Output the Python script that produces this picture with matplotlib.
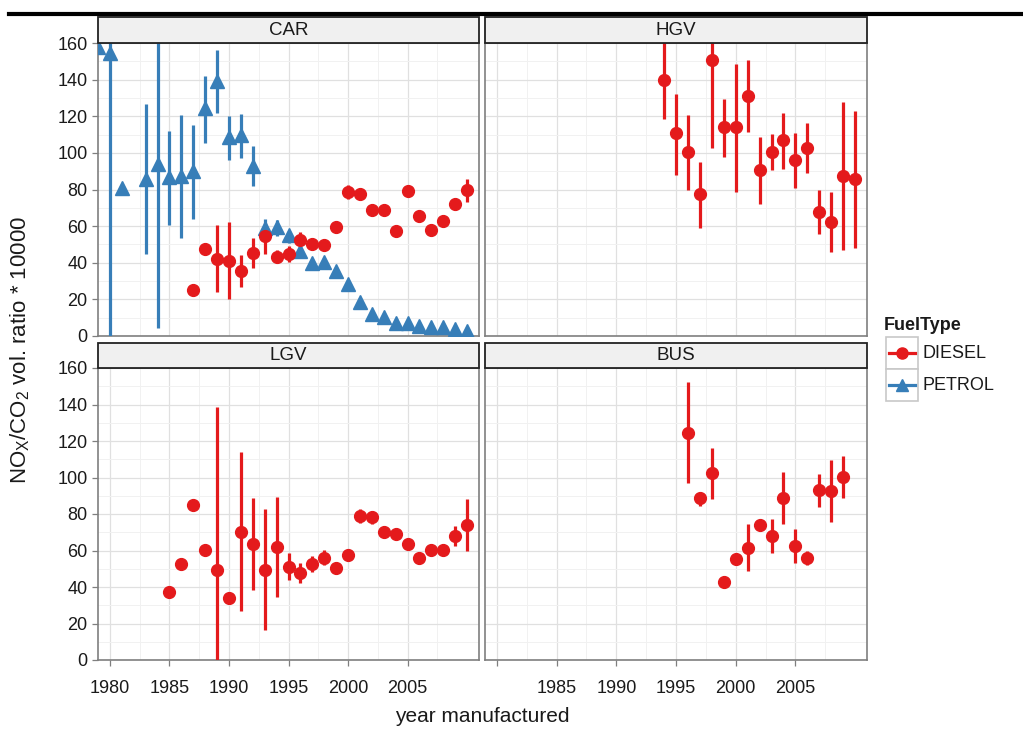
import numpy as np
import matplotlib
matplotlib.use("Agg")
import matplotlib.pyplot as plt
from matplotlib.lines import Line2D
from matplotlib.patches import Rectangle

plt.rcParams['font.family'] = ['Liberation Sans', 'DejaVu Sans']
plt.rcParams['mathtext.fontset'] = 'custom'
plt.rcParams['mathtext.rm'] = 'Liberation Sans'
plt.rcParams['mathtext.it'] = 'Liberation Sans:italic'

nan = np.nan
RED = '#E41A1C'
BLUE = '#377EB8'

# CAR - petrol
car_pet_year = [1979, 1980, 1981, 1983, 1984, 1985, 1986, 1987, 1988, 1989, 1990, 1991, 1992,
                1993, 1994, 1995, 1996, 1997, 1998, 1999, 2000, 2001, 2002, 2003, 2004, 2005,
                2006, 2007, 2008, 2009, 2010]
car_pet_val = [158, 154.5, 81, 86, 94, 86.8, 87.5, 90, 124.3, 139.5, 108.4, 109.5, 92.8,
               58.9, 59.5, 54.9, 46.5, 39.7, 40.6, 35.5, 28.6, 18.3, 12.1, 10.4, 7, 7,
               5.5, 4.8, 4.8, 3.7, 2.6]
car_pet_lo = [nan, -20, nan, 44.7, 4.4, 60.8, 53.5, 64, 105.3, 121.9, 95.9, 97, 81.8,
              55, 54.4, 50.7, 44.3, nan, nan, nan, nan, nan, nan, nan, nan, nan,
              nan, nan, nan, nan, nan]
car_pet_hi = [nan, 200, nan, 126.7, 200, 111.7, 120.8, 115, 141.9, 156.3, 120.3, 121.2, 103.8,
              64, 63.3, 57.5, 49.4, nan, nan, nan, nan, nan, nan, nan, nan, nan,
              nan, nan, nan, nan, nan]

# CAR - diesel
car_die_year = [1987, 1988, 1989, 1990, 1991, 1992, 1993, 1994, 1995, 1996, 1997, 1998,
                1999, 2000, 2001, 2002, 2003, 2004, 2005, 2006, 2007, 2008, 2009, 2010]
car_die_val = [25.1, 47.4, 41.9, 41, 35.5, 45.2, 54.6, 43.4, 44.7, 52.5, 50.2, 49.8,
               59.3, 78.5, 77.6, 69, 69, 57.5, 79.1, 65.4, 58, 63, 72.1, 79.5]
car_die_lo = [nan, nan, 23.8, 20, 26.7, 37, 44.7, 40, 40.6, 48.9, nan, nan,
              nan, 74.9, 75.4, nan, nan, nan, nan, nan, nan, nan, 69, 73]
car_die_hi = [nan, nan, 60.4, 62.2, 44.3, 53.5, 61.7, 47, 48.9, 56.8, nan, nan,
              nan, 82.7, 79.6, nan, nan, nan, nan, nan, nan, nan, 74.5, 85.5]

# HGV - diesel
hgv_year = [1994, 1995, 1996, 1997, 1998, 1999, 2000, 2001, 2002, 2003, 2004, 2005,
            2006, 2007, 2008, 2009, 2010]
hgv_val = [140, 110.6, 100.5, 77.3, 150.8, 113.9, 113.9, 131.3, 90.6, 100.5, 106.9, 96.1,
           102.9, 67.7, 62.2, 87.3, 85.9]
hgv_lo = [118.4, 87.9, 79.5, 59, 102.5, 97.8, 78.5, 111.5, 72.1, 90.4, 91.4, 80.9,
          89.2, 55.7, 45.6, 46.7, 48]
hgv_hi = [200, 132.2, 120.6, 95, 200, 129.4, 148.6, 150.5, 108.7, 110.2, 121.7, 110.8,
          116.1, 79.6, 78.5, 127.6, 123]

# LGV - diesel
lgv_year = [1985, 1986, 1987, 1988, 1989, 1990, 1991, 1992, 1993, 1994, 1995, 1996, 1997,
            1998, 1999, 2000, 2001, 2002, 2003, 2004, 2005, 2006, 2007, 2008, 2009, 2010]
lgv_val = [37.2, 52.8, 84.9, 60.5, 49.1, 34.1, 70.2, 63.4, 49.1, 61.9, 51, 47.7, 52.4,
           55.9, 50.6, 57.4, 78.8, 78.1, 70.2, 69.3, 63.8, 56.1, 60.5, 60.1, 67.8, 73.9]
lgv_lo = [nan, nan, nan, nan, -20, nan, 26.9, 38.1, 16.7, 34.5, 43.6, 42.2, 48.2,
          51.9, 48, 54.6, 74.8, 74.4, 68, 67, nan, nan, nan, 58, 62.5, 59.6]
lgv_hi = [nan, nan, nan, nan, 138.9, nan, 113.8, 88.9, 82.5, 89.4, 58.8, 53.2, 57,
          60.5, 53, 60.7, 83, 81.6, 72, 72, nan, nan, nan, 62.6, 73.3, 88]

# BUS - diesel
bus_year = [1996, 1997, 1998, 1999, 2000, 2001, 2002, 2003, 2004, 2005, 2006, 2007, 2008, 2009]
bus_val = [124.6, 88.5, 102.3, 42.7, 55.5, 61.4, 74.2, 68, 88.9, 62.5, 55.9, 92.9, 92.7, 100.4]
bus_lo = [97.1, 84.3, 88.2, nan, nan, 48.8, nan, 58.7, 74.4, 53.3, 51.9, 83.6, 75.7, 88.5]
bus_hi = [152.1, 92.2, 116.4, nan, nan, 74.4, nan, 77.2, 103.2, 72, 59.8, 101.9, 109.6, 111.8]

xticks = [1980, 1985, 1990, 1995, 2000, 2005]
yticks = [0, 20, 40, 60, 80, 100, 120, 140, 160]

W, H = 1023, 731
fig = plt.figure(figsize=(W / 100, H / 100), dpi=100)


def box(x0, y0, x1, y1):
    return [x0 / W, 1 - y1 / H, (x1 - x0) / W, (y1 - y0) / H]


ax_car = fig.add_axes(box(98, 43, 479, 336))
ax_hgv = fig.add_axes(box(485, 43, 867, 336))
ax_lgv = fig.add_axes(box(98, 368, 479, 660))
ax_bus = fig.add_axes(box(485, 368, 867, 660))


def pointrange(ax, year, val, lo, hi, color, marker, ms):
    year = np.array(year, float)
    lo = np.array(lo, float)
    hi = np.array(hi, float)
    ok = ~np.isnan(lo)
    ax.vlines(year[ok], lo[ok], hi[ok], color=color, lw=2.3, zorder=3)
    ax.plot(year, val, ls='none', marker=marker, color=color, ms=ms, zorder=4)


def style(ax, title, left, bottom, right_labels=False):
    ax.set_xlim(1979, 2011)
    ax.set_ylim(0, 160)
    ax.set_xticks(xticks)
    ax.set_xticks(np.arange(1982.5, 2010, 5), minor=True)
    ax.set_yticks(yticks)
    ax.set_yticks(np.arange(10, 160, 20), minor=True)
    ax.grid(True, which='major', color='#e0e0e0', lw=0.9, zorder=0)
    ax.grid(True, which='minor', color='#f1f1f1', lw=0.7, zorder=0)
    ax.set_axisbelow(True)
    for s in ax.spines.values():
        s.set_color('#7f7f7f')
        s.set_linewidth(1.2)
    ax.tick_params(which='minor', length=0)
    ax.tick_params(which='major', length=4.5, width=0.9, color='#7f7f7f',
                   labelsize=13, labelcolor='#1a1a1a', pad=3)
    if bottom:
        if right_labels:
            ax.set_xticklabels([''] + [str(t) for t in xticks[1:]])
        ax.tick_params(axis='x', pad=10)
    else:
        ax.tick_params(axis='x', length=0, labelbottom=False)
    if not left:
        ax.tick_params(axis='y', length=0, labelleft=False)
    sh = 25.5 / 293
    ax.add_patch(Rectangle((0, 1), 1, sh, transform=ax.transAxes, clip_on=False,
                           facecolor='#f0f0f0', edgecolor='#222222', lw=1.3, zorder=5))
    ax.text(0.5, 1 + sh / 2, title, transform=ax.transAxes, ha='center', va='center',
            fontsize=13.5, color='#1a1a1a', zorder=6)


pointrange(ax_car, car_pet_year, car_pet_val, car_pet_lo, car_pet_hi, BLUE, '^', 10)
pointrange(ax_car, car_die_year, car_die_val, car_die_lo, car_die_hi, RED, 'o', 8.5)
pointrange(ax_hgv, hgv_year, hgv_val, hgv_lo, hgv_hi, RED, 'o', 8.5)
pointrange(ax_lgv, lgv_year, lgv_val, lgv_lo, lgv_hi, RED, 'o', 8.5)
pointrange(ax_bus, bus_year, bus_val, bus_lo, bus_hi, RED, 'o', 8.5)

style(ax_car, 'CAR', True, False)
style(ax_hgv, 'HGV', False, False)
style(ax_lgv, 'LGV', True, True)
style(ax_bus, 'BUS', False, True, right_labels=True)

# axis titles
fig.text(20 / W, 1 - 350 / H, r'NO$_\mathrm{X}$/CO$_\mathrm{2}$ vol. ratio * 10000',
         rotation=90, ha='center', va='center', fontsize=16, color='#1a1a1a')
fig.text(482 / W, 1 - 717 / H, 'year manufactured', ha='center', va='center',
         fontsize=15, color='#1a1a1a')

# legend
fig.text(884 / W, 1 - 325 / H, 'FuelType', fontweight='bold', fontsize=13,
         ha='left', va='center', color='#1a1a1a')
keys = [('DIESEL', RED, 'o', 8, 353), ('PETROL', BLUE, '^', 9, 385)]
for i, (lab, col, mk, ms, yc) in enumerate(keys):
    fig.add_artist(Rectangle((886 / W, 1 - (yc + 16) / H), 32 / W, 32 / H,
                             transform=fig.transFigure, facecolor='white',
                             edgecolor='#c8c8c8', lw=1.2))
    fig.add_artist(Line2D([889 / W, 915 / W], [1 - yc / H] * 2, color=col, lw=2.3,
                          transform=fig.transFigure))
    fig.add_artist(Line2D([902 / W], [1 - yc / H], color=col, marker=mk, ms=ms,
                          transform=fig.transFigure))
    fig.text(923 / W, 1 - yc / H, lab, fontsize=13, ha='left', va='center', color='#1a1a1a')

# top rule
fig.add_artist(Line2D([9 / W, 1], [1 - 13.5 / H] * 2, color='black', lw=3,
                      transform=fig.transFigure))

fig.savefig('out.png', dpi=100)
